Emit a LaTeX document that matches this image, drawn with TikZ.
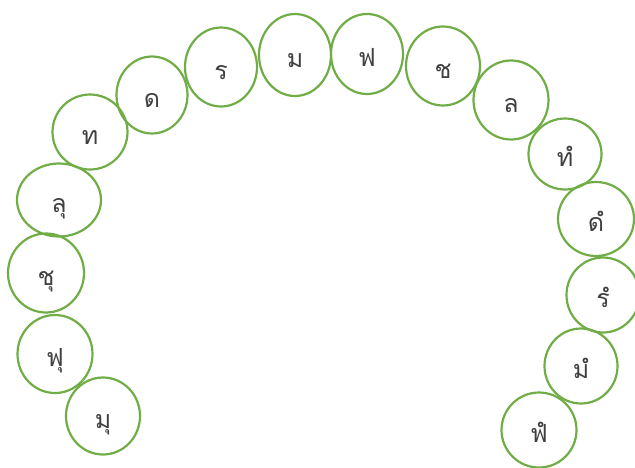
\documentclass[tikz,border=0pt]{standalone}
\usepackage{fontspec}
\newfontfamily\thaifont[Script=Thai]{Loma}
\usetikzlibrary{shapes.geometric}
\definecolor{ringgreen}{HTML}{70AD47}
\definecolor{txtgray}{HTML}{404040}
\tikzset{
  ring/.style={ellipse, draw=ringgreen, line width=2.2pt, inner sep=0pt,
    text=txtgray, text height=24pt, text depth=0pt,
    font=\thaifont\fontsize{25}{30}\selectfont}
}
\begin{document}
\begin{tikzpicture}[x=1pt,y=-1pt]
\useasboundingbox (0,0) rectangle (635,467);
\node[ring, minimum width=74pt, minimum height=77pt] (n1) at (103,416) {มุ};
\node[ring, minimum width=75pt, minimum height=78pt] (n2) at (55,354) {ฟุ};
\node[ring, minimum width=76pt, minimum height=79pt] (n3) at (46,273) {ชุ};
\node[ring, minimum width=84pt, minimum height=73pt] (n4) at (59,200) {ลุ};
\node[ring, minimum width=75pt, minimum height=75pt] (n5) at (90,132) {ท};
\node[ring, minimum width=71pt, minimum height=77pt] (n6) at (152,95) {ด};
\node[ring, minimum width=72pt, minimum height=79pt] (n7) at (221,67) {ร};
\node[ring, minimum width=72pt, minimum height=82pt] (n8) at (295,55) {ม};
\node[ring, minimum width=72pt, minimum height=80pt] (n9) at (367,54) {ฟ};
\node[ring, minimum width=74pt, minimum height=79pt] (n10) at (443,66) {ช};
\node[ring, minimum width=75pt, minimum height=79pt] (n11) at (511,100) {ล};
\node[ring, minimum width=73pt, minimum height=71pt] (n12) at (565,154) {ทํ};
\node[ring, minimum width=76pt, minimum height=74pt] (n13) at (596,219) {ดํ};
\node[ring, minimum width=73pt, minimum height=75pt] (n14) at (603,295) {รํ};
\node[ring, minimum width=73pt, minimum height=75pt] (n15) at (581,366) {มํ};
\node[ring, minimum width=75pt, minimum height=75pt] (n16) at (539,430) {ฟํ};
\end{tikzpicture}
\end{document}
